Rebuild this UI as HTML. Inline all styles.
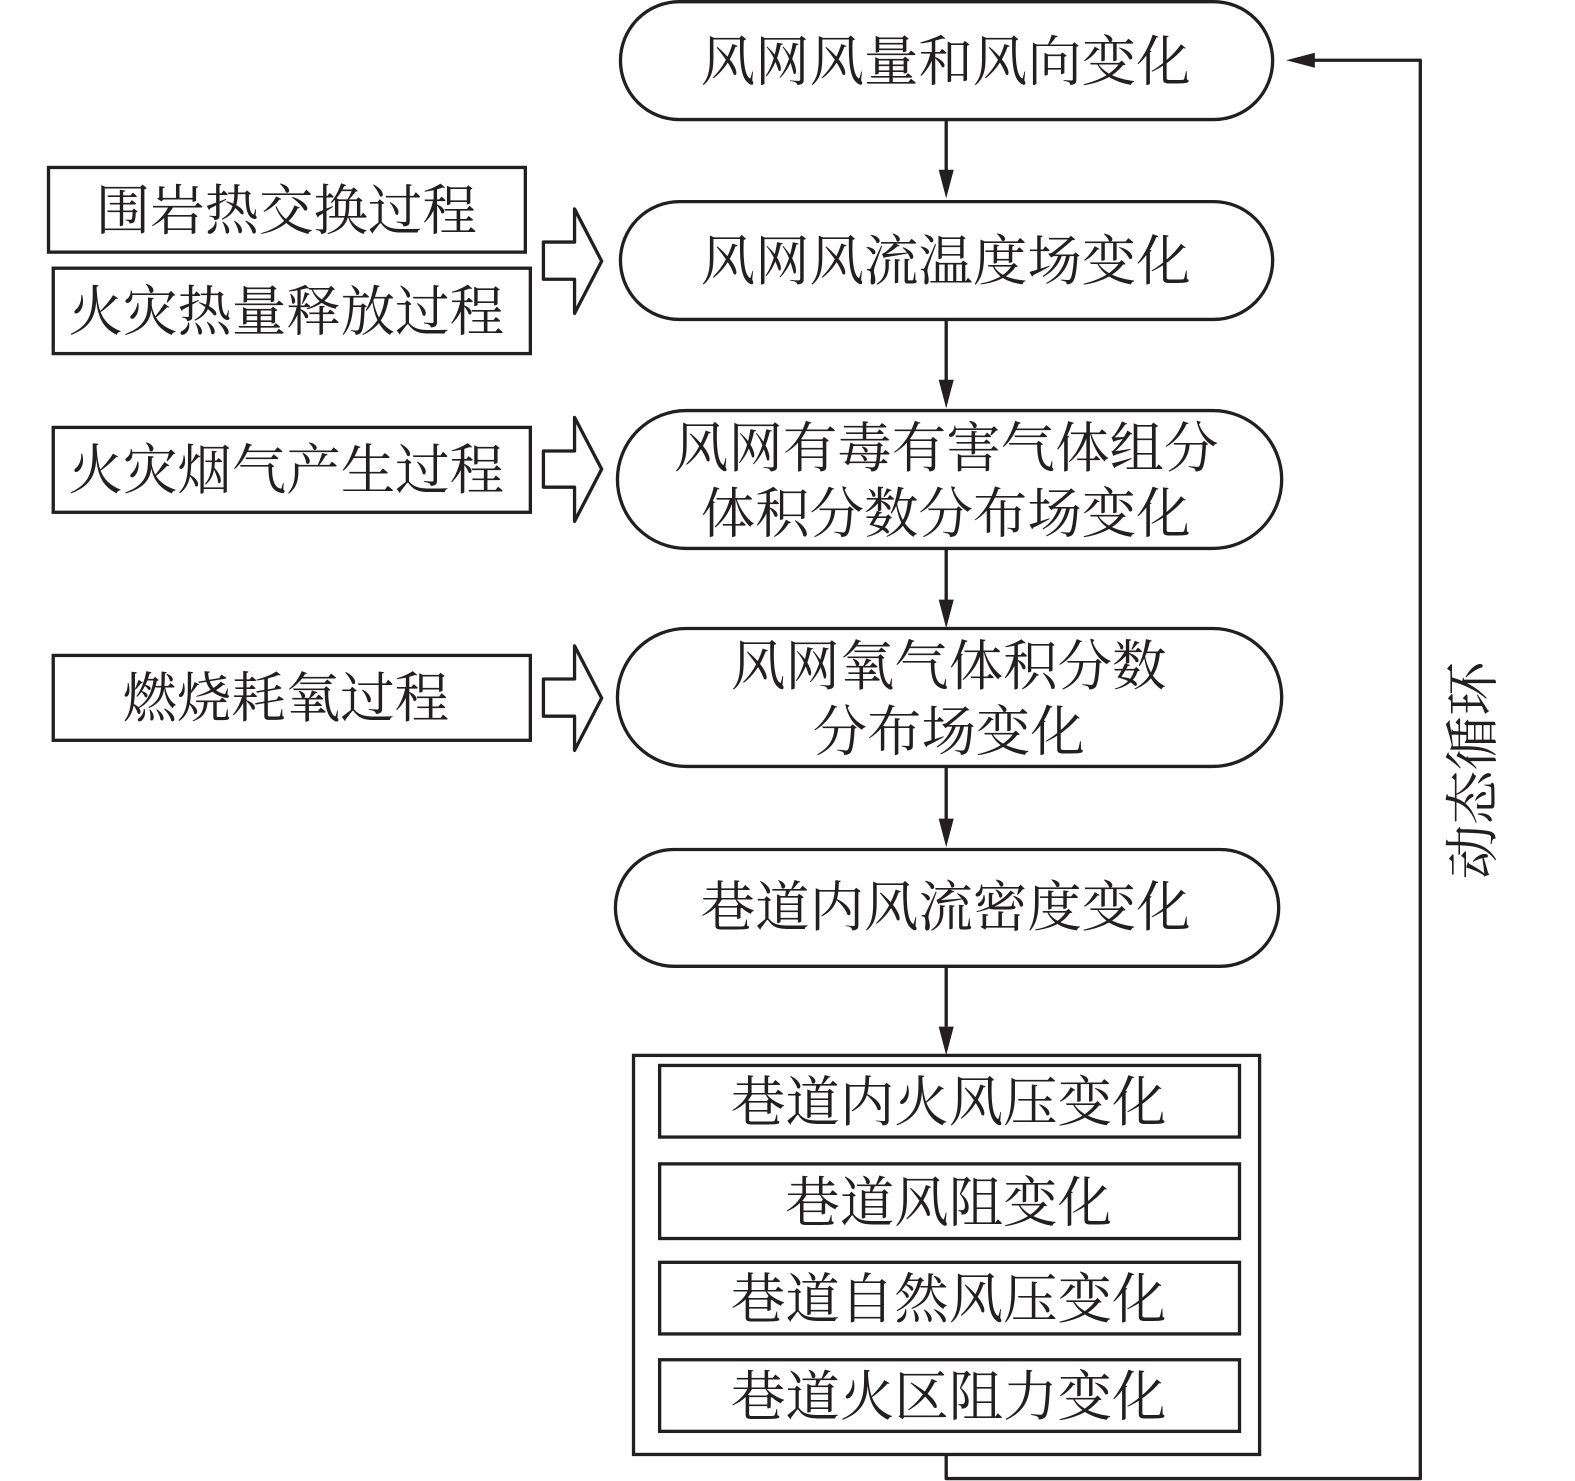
<!DOCTYPE html>
<html><head><meta charset="utf-8">
<style>
html,body{margin:0;padding:0;background:#fff;}
svg{display:block;}
text{font-family:"Liberation Serif","Noto Serif CJK SC",serif;font-size:54.2px;fill:#231f20;text-anchor:middle;}
.s{fill:none;stroke:#231f20;stroke-width:3.3;}
.h{fill:#231f20;stroke:none;}
</style></head><body>
<svg xmlns="http://www.w3.org/2000/svg" width="1575" height="1481" viewBox="0 0 1568 1474.4">
<rect width="1568" height="1475" fill="#fff"/>
<!-- pills -->
<rect class="s" x="617.700" y="1.700" width="649.300" height="117.300" rx="58.650" ry="58.650"/>
<rect class="s" x="617.700" y="200.700" width="649.300" height="117.300" rx="58.650" ry="58.650"/>
<rect class="s" x="614.700" y="408.700" width="661.300" height="137.300" rx="68.650" ry="68.650"/>
<rect class="s" x="614.700" y="625.700" width="661.300" height="137.300" rx="68.650" ry="68.650"/>
<rect class="s" x="612.700" y="845.700" width="660.300" height="116.300" rx="58.150" ry="58.150"/>
<!-- big box -->
<rect class="s" x="630.700" y="1050.700" width="623.300" height="397.300"/>
<rect class="s" x="656.700" y="1060.700" width="577.300" height="71.300"/>
<rect class="s" x="656.700" y="1158.700" width="577.300" height="74.300"/>
<rect class="s" x="656.700" y="1256.700" width="577.300" height="71.300"/>
<rect class="s" x="656.700" y="1353.700" width="577.300" height="71.300"/>
<!-- left boxes -->
<rect class="s" x="48.300" y="166.700" width="474.700" height="84.300"/>
<rect class="s" x="53" y="267" width="475" height="85"/>
<rect class="s" x="53" y="425.500" width="475" height="84.500"/>
<rect class="s" x="53" y="652.500" width="475" height="84.500"/>
<!-- block arrows -->
<path class="s" stroke-linejoin="round" d="M541 241H572V208L599 260L572 312V278H541Z"/>
<path class="s" stroke-linejoin="round" d="M541 449H572V415.500L599 467L572 519V485H541Z"/>
<path class="s" stroke-linejoin="round" d="M541 676H572V643L599 695L572 747V713H541Z"/>
<!-- connectors -->
<path class="s" d="M942 119V170M942 318V380M942 546V600M942 763V816M942 962V1022"/>
<path class="h" d="M934.500 169H949.500L942 197.500ZM934.500 378H949.500L942 406.500ZM934.500 597H949.500L942 625.500ZM934.500 815H949.500L942 843.500ZM934.500 1022H949.500L942 1050.500Z"/>
<path class="s" stroke-linejoin="round" d="M942 1448V1472H1414V60H1305"/>
<path class="h" d="M1309 52.500V67.500L1280.500 60Z"/>
<!-- labels -->
<text x="941.500" y="80">风网风量和风向变化</text>
<text x="941.500" y="279">风网风流温度场变化</text>
<text x="942" y="465">风网有毒有害气体组分</text>
<text x="941.500" y="530">体积分数分布场变化</text>
<text x="944.500" y="682">风网氧气体积分数</text>
<text x="944.500" y="747">分布场变化</text>
<text x="941.500" y="922">巷道内风流密度变化</text>
<text x="944.500" y="1116">巷道内火风压变化</text>
<text x="944.500" y="1216">巷道风阻变化</text>
<text x="944.500" y="1312">巷道自然风压变化</text>
<text x="944.500" y="1409">巷道火区阻力变化</text>
<text x="285" y="228.500">围岩热交换过程</text>
<text x="285" y="329">火灾热量释放过程</text>
<text x="285" y="487">火灾烟气产生过程</text>
<text x="284.500" y="714">燃烧耗氧过程</text>
<text transform="translate(1485 767) rotate(-90)" x="0" y="0">动态循环</text>
</svg>
</body></html>
